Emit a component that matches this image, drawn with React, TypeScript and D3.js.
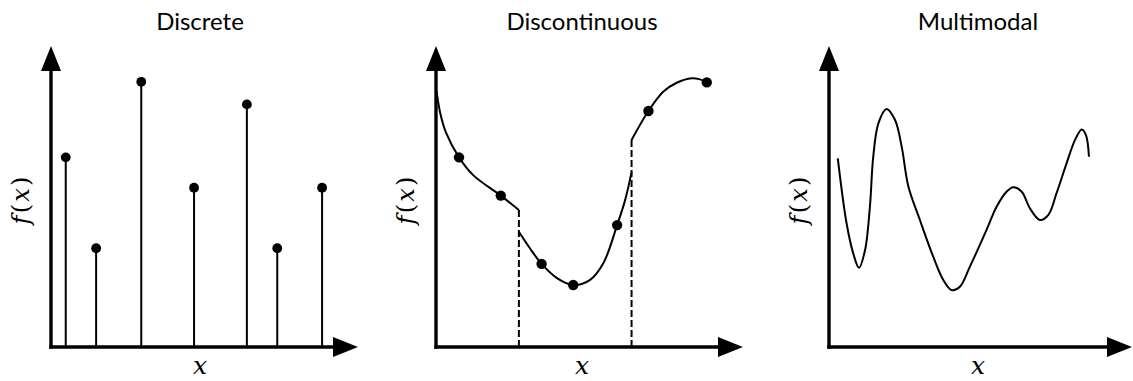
import React from "react";
import * as d3 from "d3";

// ---------- data ----------
const titles = ["Discrete", "Discontinuous", "Multimodal"];

// Discrete panel (stems)
const discreteX = [0.48, 1.47, 2.94, 4.66, 6.38, 7.37, 8.83];
const discreteY = [6.3, 3.28, 8.81, 5.29, 8.06, 3.28, 5.29];

// Discontinuous panel: three continuous pieces
const seg1X = [0.02, 0.13, 0.33, 0.75, 1.21, 2.11, 2.7];
const seg1Y = [8.5, 7.81, 7.11, 6.3, 5.71, 5.03, 4.55];
const seg2X = [2.7, 3.06, 3.44, 3.94, 4.47, 5.02, 5.45, 5.9, 6.16, 6.37];
const seg2Y = [3.83, 3.28, 2.76, 2.29, 2.06, 2.23, 2.78, 4.05, 4.88, 5.81];
const seg3X = [6.37, 6.92, 7.4, 7.84, 8.33, 8.6, 8.82];
const seg3Y = [6.88, 7.84, 8.48, 8.78, 8.93, 8.89, 8.79];
const discDotsX = [0.75, 2.11, 3.44, 4.47, 5.9, 6.92, 8.82];
const discDotsY = [6.3, 5.03, 2.76, 2.06, 4.05, 7.84, 8.79];
const jumpX = [2.7, 6.37];
const jumpTop = [4.55, 6.88];

// Multimodal panel
const multiX = [0.29, 0.58, 0.8, 0.99, 1.19, 1.35, 1.46, 1.63, 1.9, 2.18, 2.4, 2.62, 3.0, 3.44, 3.77, 4.05, 4.32, 4.65, 5.2, 5.53, 5.86, 6.08, 6.36, 6.63, 6.96, 7.24, 7.51, 7.84, 8.12, 8.34, 8.48, 8.58];
const multiY = [6.27, 4.11, 3.11, 2.63, 3.22, 4.66, 6.32, 7.43, 7.91, 7.54, 6.65, 5.33, 4.22, 3.0, 2.23, 1.89, 2.0, 2.67, 3.89, 4.66, 5.16, 5.31, 5.16, 4.61, 4.22, 4.39, 5.11, 6.1, 6.88, 7.23, 7.04, 6.32];

// ---------- layout ----------
const W = 1133;
const H = 381;
const axisLeft = [51, 436, 829];
const axisTip = [358, 743, 1132];
const centers = [200, 582, 978];
const baseY = 347;
const topY = 46;
const headLen = 25;
const headHalf = 10;
const axisW = 3.4;

const serif = "'DejaVu Serif', 'Liberation Serif', serif";
const sans = "Lato, 'Noto Sans', sans-serif";

const zip = (xs: number[], ys: number[]) => xs.map((x, i) => [x, ys[i]] as [number, number]);

function Panel({ idx }: { idx: number }) {
  const x = d3.scaleLinear().domain([0, 10]).range([axisLeft[idx], axisTip[idx]]);
  const y = d3.scaleLinear().domain([0, 10]).range([baseY, topY]);
  const line = d3
    .line<[number, number]>()
    .x((d) => x(d[0]))
    .y((d) => y(d[1]))
    .curve(d3.curveCatmullRom.alpha(0.5));

  const ax = axisLeft[idx];
  const tip = axisTip[idx];
  const yArrow = `M${ax},${topY} L${ax - headHalf},${topY + headLen} L${ax + headHalf},${topY + headLen} Z`;
  const xArrow = `M${tip},${baseY} L${tip - headLen},${baseY - headHalf} L${tip - headLen},${baseY + headHalf} Z`;

  let content: React.ReactNode = null;
  if (idx === 0) {
    content = (
      <g>
        {discreteX.map((v, i) => (
          <g key={i}>
            <line x1={x(v)} x2={x(v)} y1={y(0)} y2={y(discreteY[i])} stroke="#000" strokeWidth={2} />
            <circle cx={x(v)} cy={y(discreteY[i])} r={4.9} fill="#000" />
          </g>
        ))}
      </g>
    );
  } else if (idx === 1) {
    content = (
      <g>
        {jumpX.map((v, i) => (
          <line key={i} x1={x(v)} x2={x(v)} y1={y(0)} y2={y(jumpTop[i])} stroke="#000" strokeWidth={2} strokeDasharray="7,3" />
        ))}
        {[zip(seg1X, seg1Y), zip(seg2X, seg2Y), zip(seg3X, seg3Y)].map((s, i) => (
          <path key={i} d={line(s) || ""} fill="none" stroke="#000" strokeWidth={2} />
        ))}
        {discDotsX.map((v, i) => (
          <circle key={i} cx={x(v)} cy={y(discDotsY[i])} r={5.2} fill="#000" />
        ))}
      </g>
    );
  } else {
    content = <path d={line(zip(multiX, multiY)) || ""} fill="none" stroke="#000" strokeWidth={2} />;
  }

  const labelX = ax - 22;
  const labelY = (baseY + topY) / 2 + 4;
  return (
    <g>
      {content}
      <line x1={ax} x2={ax} y1={baseY + axisW / 2} y2={topY + headLen - 1} stroke="#000" strokeWidth={axisW} />
      <line x1={ax - axisW / 2} x2={tip - headLen + 1} y1={baseY} y2={baseY} stroke="#000" strokeWidth={axisW} />
      <path d={yArrow} fill="#000" />
      <path d={xArrow} fill="#000" />
      <text x={centers[idx]} y={30} textAnchor="middle" style={{ fontFamily: sans, fontSize: 24 }} fill="#000">
        {titles[idx]}
      </text>
      <text
        x={centers[idx]}
        y={374}
        textAnchor="middle"
        style={{ fontFamily: serif, fontStyle: "italic", fontSize: 25 }}
        fill="#000"
      >
        x
      </text>
      <text
        transform={`translate(${labelX},${labelY}) rotate(-90)`}
        textAnchor="middle"
        style={{ fontFamily: serif, fontSize: 24 }}
        fill="#000"
        textLength={48}
        lengthAdjust="spacing"
      >
        <tspan style={{ fontStyle: "italic" }}>f</tspan>
        <tspan>(</tspan>
        <tspan style={{ fontStyle: "italic" }}>x</tspan>
        <tspan>)</tspan>
      </text>
    </g>
  );
}

export default function App() {
  return (
    <svg
      width={W}
      height={H}
      viewBox={`0 0 ${W} ${H}`}
      style={{ position: "absolute", left: 0, top: 0, background: "#fff" }}
    >
      <rect width={W} height={H} fill="#fff" />
      {[0, 1, 2].map((i) => (
        <Panel key={i} idx={i} />
      ))}
    </svg>
  );
}
